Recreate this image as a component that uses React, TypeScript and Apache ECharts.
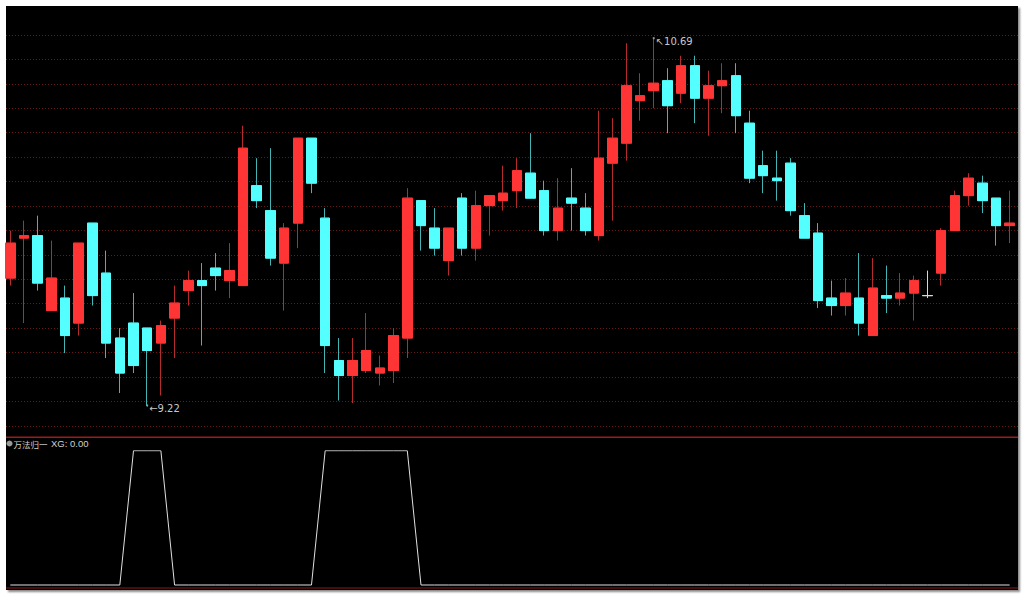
import React, { useEffect, useRef } from "react";
import * as echarts from "echarts";

// OHLC values (74 trading days)
const opens = [
  9.73, 9.89, 9.90, 9.60, 9.65, 9.55, 9.95, 9.75, 9.49, 9.55,
  9.53, 9.47, 9.57, 9.68, 9.72, 9.77, 9.72, 9.70, 10.10, 10.00,
  9.79, 9.95, 10.29, 9.97, 9.40, 9.34, 9.36, 9.35, 9.36, 9.49,
  10.04, 9.93, 9.80, 10.05, 9.85, 10.02, 10.04, 10.08, 10.15, 10.08,
  9.92, 10.05, 10.01, 9.90, 10.19, 10.27, 10.44, 10.48, 10.52, 10.47,
  10.58, 10.45, 10.50, 10.54, 10.35, 10.18, 10.13, 10.19, 9.98, 9.91,
  9.65, 9.62, 9.65, 9.50, 9.66, 9.65, 9.67, 9.66, 9.75, 9.92,
  10.06, 10.11, 10.05, 9.94,
];
const closes = [
  9.87, 9.90, 9.71, 9.73, 9.50, 9.87, 9.66, 9.47, 9.35, 9.38,
  9.44, 9.54, 9.63, 9.72, 9.70, 9.74, 9.76, 10.25, 10.04, 9.81,
  9.93, 10.29, 10.11, 9.46, 9.34, 9.40, 9.44, 9.37, 9.50, 10.05,
  9.94, 9.85, 9.93, 9.85, 10.02, 10.06, 10.07, 10.16, 10.05, 9.92,
  10.01, 10.03, 9.92, 10.21, 10.29, 10.50, 10.46, 10.51, 10.42, 10.58,
  10.45, 10.50, 10.52, 10.38, 10.13, 10.14, 10.12, 10.00, 9.89, 9.64,
  9.62, 9.67, 9.55, 9.69, 9.65, 9.67, 9.72, 9.66, 9.92, 10.06,
  10.13, 10.04, 9.94, 9.95,
];
const lows = [
  9.70, 9.55, 9.68, 9.60, 9.43, 9.50, 9.62, 9.41, 9.27, 9.35,
  9.22, 9.26, 9.41, 9.62, 9.46, 9.68, 9.65, 9.70, 10.01, 9.78,
  9.60, 9.85, 10.07, 9.35, 9.24, 9.23, 9.35, 9.30, 9.31, 9.41,
  9.84, 9.82, 9.74, 9.82, 9.80, 9.90, 10.00, 10.01, 10.05, 9.90,
  9.88, 9.92, 9.90, 9.88, 9.96, 10.20, 10.36, 10.41, 10.31, 10.43,
  10.35, 10.30, 10.39, 10.31, 10.11, 10.07, 10.04, 9.98, 9.89, 9.61,
  9.58, 9.58, 9.50, 9.50, 9.59, 9.62, 9.56, 9.65, 9.70, 9.92,
  10.02, 9.99, 9.86, 9.87,
];
const highs = [
  9.92, 9.96, 9.98, 9.88, 9.70, 9.87, 9.95, 9.84, 9.53, 9.67,
  9.53, 9.56, 9.70, 9.76, 9.79, 9.83, 9.87, 10.34, 10.21, 10.25,
  9.95, 10.29, 10.29, 10.01, 9.49, 9.49, 9.59, 9.42, 9.53, 10.09,
  10.04, 10.01, 9.93, 10.07, 10.08, 10.06, 10.18, 10.21, 10.31, 10.12,
  10.13, 10.17, 10.07, 10.40, 10.37, 10.67, 10.55, 10.69, 10.57, 10.62,
  10.62, 10.56, 10.59, 10.59, 10.40, 10.24, 10.24, 10.21, 10.03, 9.95,
  9.72, 9.73, 9.83, 9.81, 9.78, 9.75, 9.74, 9.76, 9.93, 10.08,
  10.15, 10.14, 10.05, 10.08,
];
// XG indicator (万法归一)
const xg = [
  0, 0, 0, 0, 0, 0, 0, 0, 0, 1,
  1, 1, 0, 0, 0, 0, 0, 0, 0, 0,
  0, 0, 0, 1, 1, 1, 1, 1, 1, 1,
  0, 0, 0, 0, 0, 0, 0, 0, 0, 0,
  0, 0, 0, 0, 0, 0, 0, 0, 0, 0,
  0, 0, 0, 0, 0, 0, 0, 0, 0, 0,
  0, 0, 0, 0, 0, 0, 0, 0, 0, 0,
  0, 0, 0, 0,
];
const categories = opens.map((_, i) => "D" + (i + 1));

const UP = "#ff3434";
const DOWN = "#54ffff";
const UP_WICK = "#b42c2c";
const DOWN_WICK = "#44b4b4";
const FLAT = "#d8d8d8";

export default function App() {
  const ref = useRef<HTMLDivElement>(null);
  useEffect(() => {
    if (!ref.current) return;
    const chart = echarts.init(ref.current, null, { renderer: "svg" });

    const flatStyle = {
      color: FLAT, color0: FLAT, borderColor: FLAT, borderColor0: FLAT, borderColorDoji: FLAT,
    };
    const wickData = opens.map((o, i) => {
      const v = [o, closes[i], lows[i], highs[i]];
      return o === closes[i] ? { value: v, itemStyle: flatStyle } : { value: v };
    });
    const bodyData = opens.map((o, i) => {
      const c = closes[i];
      const v = [o, c, Math.min(o, c), Math.max(o, c)];
      return o === c ? { value: v, itemStyle: flatStyle } : { value: v };
    });

    let iMin = 0;
    let iMax = 0;
    lows.forEach((v, i) => { if (v < lows[iMin]) iMin = i; });
    highs.forEach((v, i) => { if (v > highs[iMax]) iMax = i; });

    const gridLeft = 3.45;
    const gridRight = 7.5;

    chart.setOption({
      animation: false,
      backgroundColor: "transparent",
      grid: [
        { left: gridLeft, right: gridRight, top: 6, height: 431 },
        { left: 6, right: 6, top: 35, height: 390.9 },
        { left: gridLeft, right: gridRight, top: 450.7, height: 137.3 },
      ],
      xAxis: [
        { type: "category", gridIndex: 0, data: categories, boundaryGap: true, show: false },
        { type: "value", gridIndex: 1, min: 0, max: 1, show: false },
        { type: "category", gridIndex: 2, data: categories, boundaryGap: true, show: false },
      ],
      yAxis: [
        { type: "value", gridIndex: 0, min: 9.094, max: 10.819, show: false, splitLine: { show: false } },
        {
          type: "value", gridIndex: 1, min: 0, max: 16, interval: 1,
          axisLine: { show: false }, axisTick: { show: false }, axisLabel: { show: false },
          splitLine: { show: true, lineStyle: { color: "#6a1818", type: [1, 2], width: 1 } },
        },
        { type: "value", gridIndex: 2, min: -0.0223, max: 1, show: false, splitLine: { show: false } },
      ],
      series: [
        {
          type: "line", xAxisIndex: 1, yAxisIndex: 1, data: [], silent: true,
        },
        {
          name: "wick",
          type: "candlestick",
          xAxisIndex: 0, yAxisIndex: 0,
          barWidth: 10,
          data: wickData,
          itemStyle: {
            color: "transparent", color0: "transparent",
            borderColor: UP_WICK, borderColor0: DOWN_WICK, borderColorDoji: FLAT, borderWidth: 1,
          },
          markPoint: {
            symbol: "circle",
            symbolSize: 2,
            itemStyle: { color: "#9a9a9a" },
            label: {
              show: true, position: "right", distance: 1, color: "#c8c8c8",
              fontSize: 10, fontFamily: "DejaVu Sans, sans-serif",
            },
            data: [
              {
                coord: [categories[iMax], highs[iMax]],
                label: { formatter: "↖" + highs[iMax].toFixed(2), offset: [0, 3] },
              },
              {
                coord: [categories[iMin], lows[iMin]],
                label: { formatter: "←" + lows[iMin].toFixed(2), offset: [0, 3] },
              },
            ],
          },
        },
        {
          name: "body",
          type: "candlestick",
          xAxisIndex: 0, yAxisIndex: 0,
          barWidth: 10,
          data: bodyData,
          itemStyle: {
            color: UP, color0: DOWN, borderColor: UP, borderColor0: DOWN, borderColorDoji: FLAT, borderWidth: 1,
          },
        },
        {
          name: "XG",
          type: "line",
          xAxisIndex: 2, yAxisIndex: 2,
          data: xg,
          symbol: "none",
          lineStyle: { color: "#e0e0e0", width: 1 },
        },
      ],
      graphic: [
        { type: "line", shape: { x1: 6, y1: 437.3, x2: 1018, y2: 437.3 }, style: { stroke: "#a01a1a", lineWidth: 1.5 } },
        { type: "line", shape: { x1: 6, y1: 588, x2: 1018, y2: 588 }, style: { stroke: "#8a1a1a", lineWidth: 1 } },
        { type: "circle", shape: { cx: 9.5, cy: 443.5, r: 3 }, style: { fill: "#9a9a9a" } },
        {
          type: "text", x: 13.5, y: 443.5,
          style: {
            text: "万法归一", fill: "#d0d0d0", fontSize: 8.5,
            fontFamily: "Noto Sans CJK SC, sans-serif", verticalAlign: "middle",
          },
        },
        {
          type: "text", x: 51, y: 443.5,
          style: {
            text: "XG: 0.00", fill: "#d0d0d0", fontSize: 9.5,
            fontFamily: "Liberation Sans, Arial, sans-serif", verticalAlign: "middle",
          },
        },
      ],
    });
    return () => chart.dispose();
  }, []);

  return (
    <div style={{ position: "fixed", left: 0, top: 0, width: 1024, height: 597, background: "#ffffff" }}>
      <div
        style={{
          position: "absolute", left: 6, top: 6, width: 1012, height: 584, background: "#000000",
          boxShadow: "2px 2px 2px #8a8a8a",
        }}
      />
      <div ref={ref} style={{ position: "absolute", left: 0, top: 0, width: 1024, height: 597 }} />
    </div>
  );
}
